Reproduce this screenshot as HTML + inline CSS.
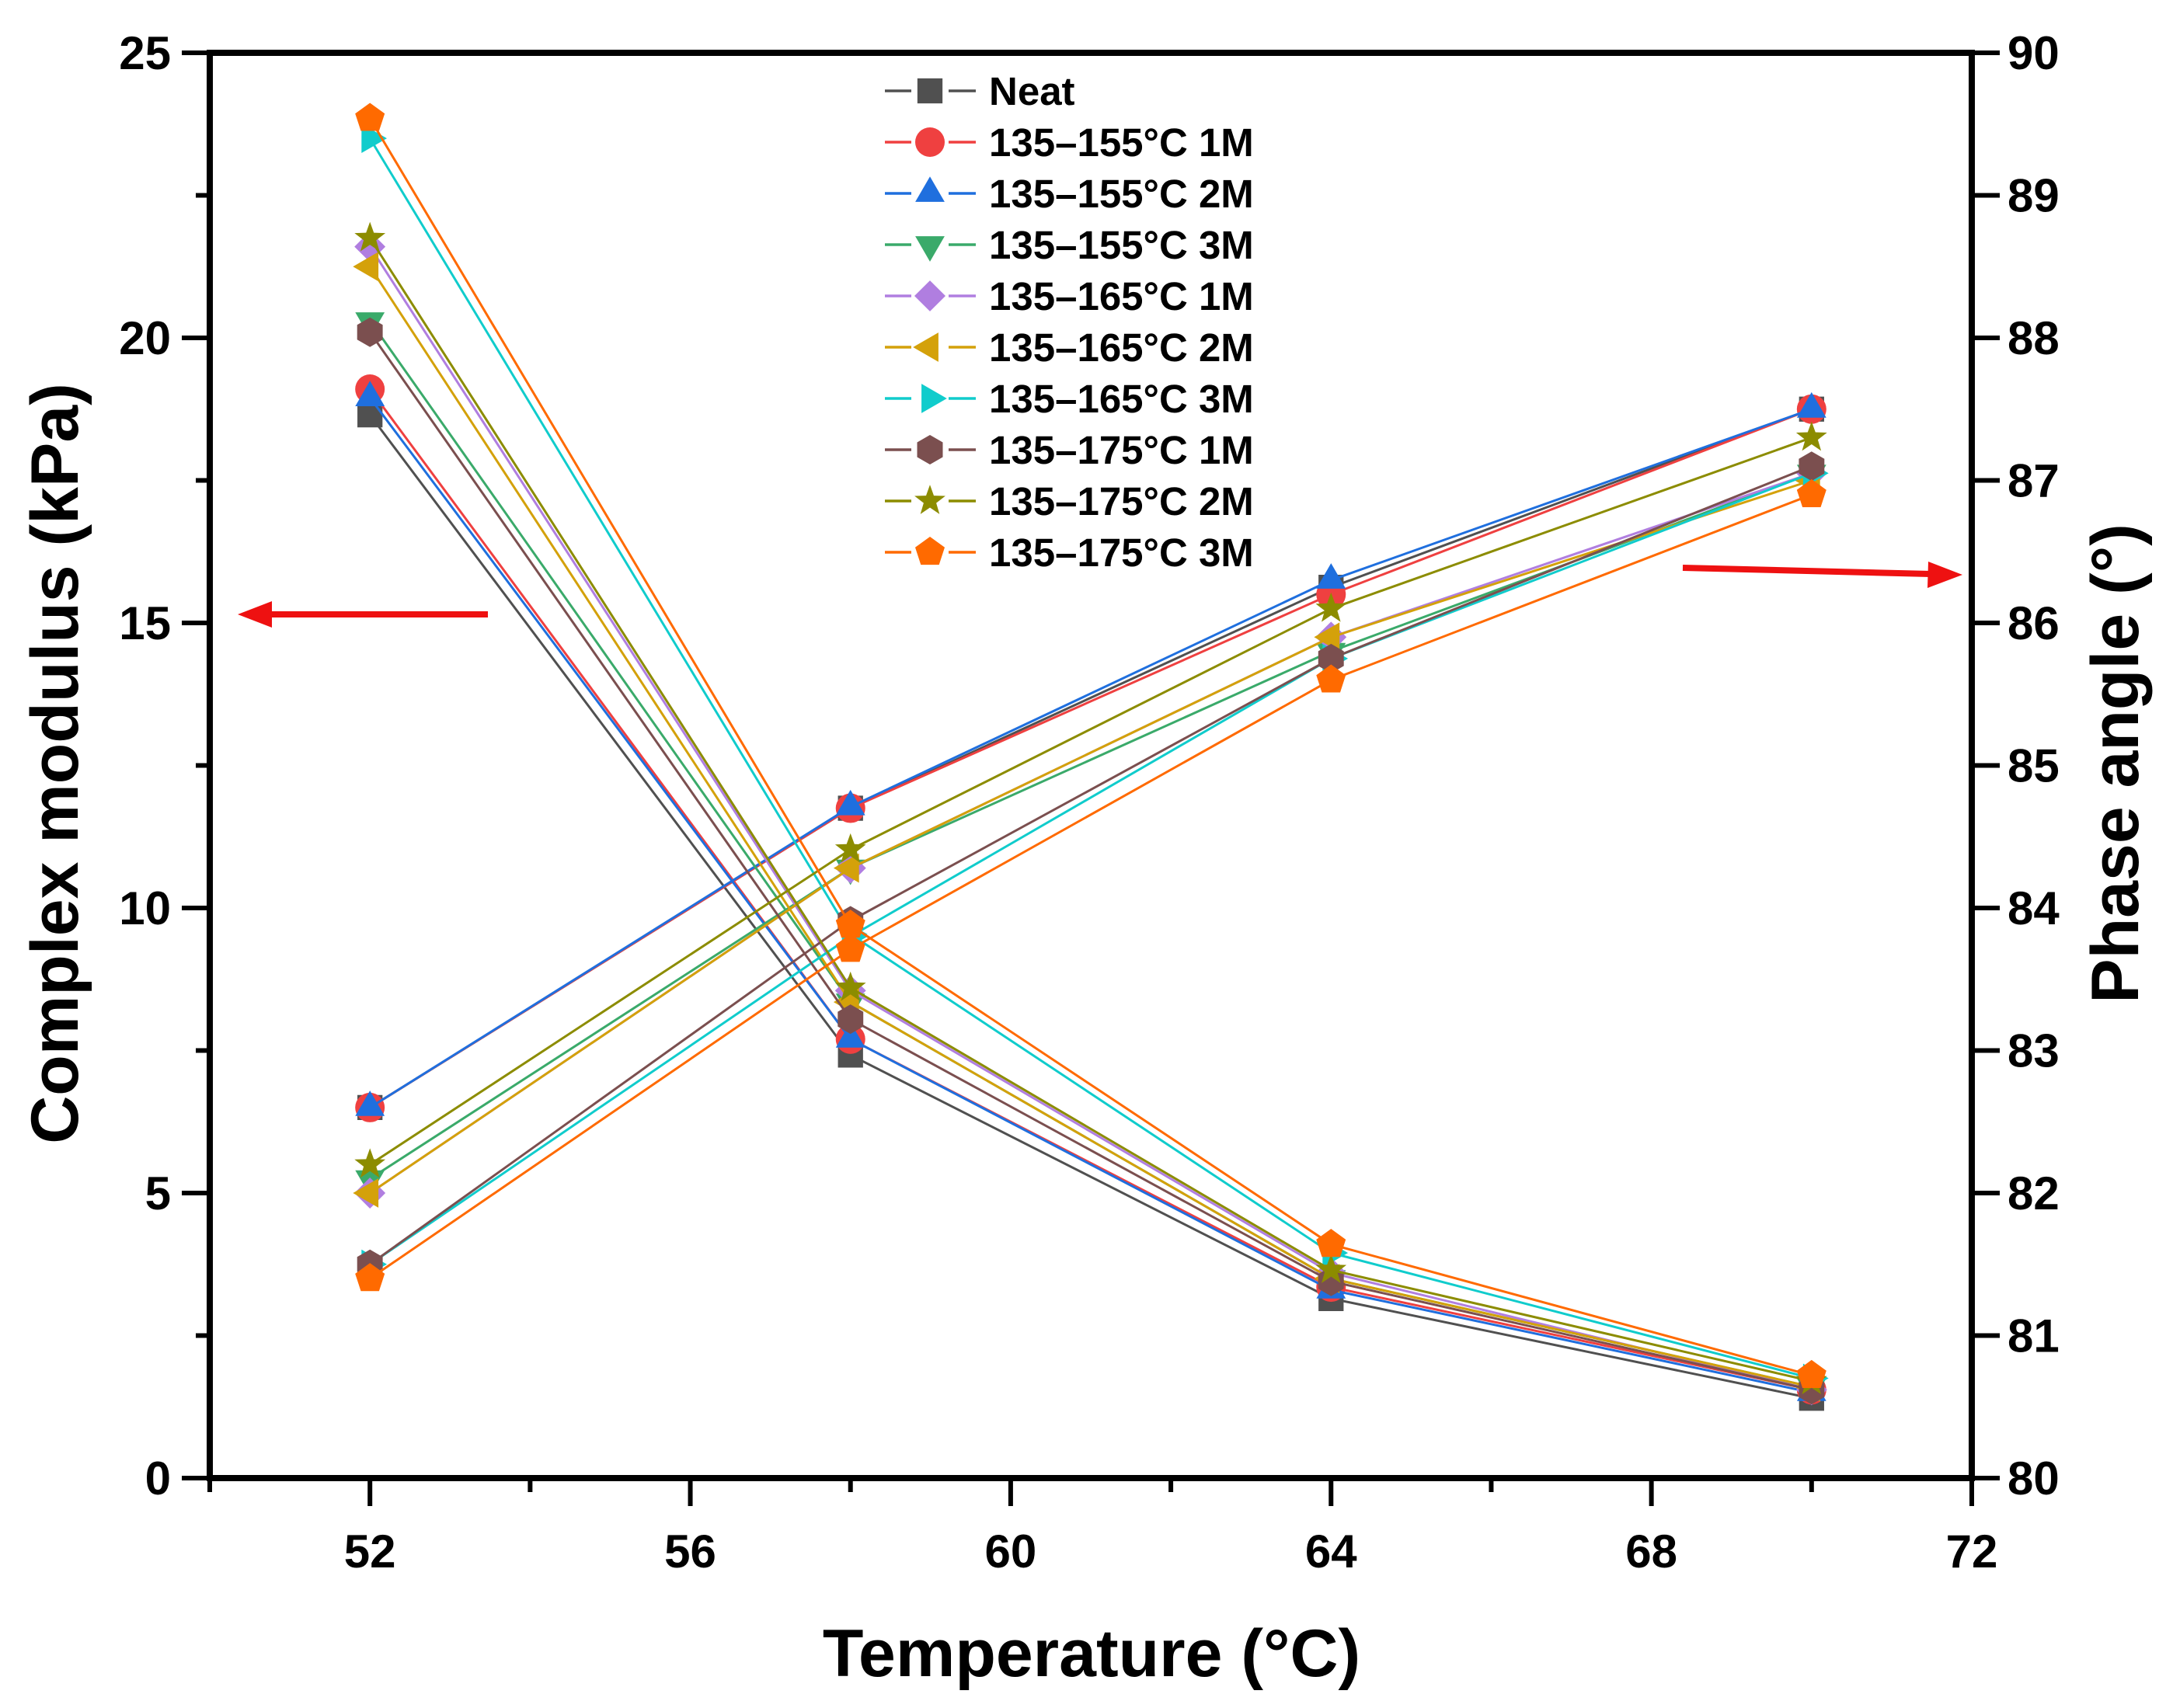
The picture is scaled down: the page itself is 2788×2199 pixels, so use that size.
<!DOCTYPE html>
<html><head><meta charset="utf-8"><style>
html,body{margin:0;padding:0;background:#fff}
svg{display:block}
text{font-family:"Liberation Sans",Arial,sans-serif;font-weight:bold}
</style></head><body>
<svg id="chart" width="2788" height="2199" viewBox="0 0 2788 2199" xmlns="http://www.w3.org/2000/svg">
<g id="plot"></g>
</svg>
<script>
const temps=[52,58,64,70];
const seriesNames=["Neat","135–155°C 1M","135–155°C 2M","135–155°C 3M","135–165°C 1M","135–165°C 2M","135–165°C 3M","135–175°C 1M","135–175°C 2M","135–175°C 3M"];
const modNeat=[18.65,7.42,3.15,1.4];
const mod155_1=[19.1,7.7,3.35,1.55];
const mod155_2=[18.95,7.7,3.3,1.5];
const mod155_3=[20.3,8.35,3.5,1.6];
const mod165_1=[21.6,8.55,3.6,1.55];
const mod165_2=[21.25,8.35,3.5,1.6];
const mod165_3=[23.5,9.54,3.95,1.75];
const mod175_1=[20.1,8.05,3.45,1.55];
const mod175_2=[21.75,8.6,3.65,1.7];
const mod175_3=[23.85,9.7,4.1,1.8];
const phNeat=[82.6,84.7,86.25,87.5];
const ph155_1=[82.6,84.7,86.2,87.5];
const ph155_2=[82.6,84.71,86.3,87.5];
const ph155_3=[82.1,84.28,85.8,87.05];
const ph165_1=[82.0,84.28,85.9,87.05];
const ph165_2=[82.0,84.28,85.9,87.0];
const ph165_3=[81.5,83.8,85.75,87.05];
const ph175_1=[81.5,83.91,85.75,87.1];
const ph175_2=[82.2,84.41,86.1,87.3];
const ph175_3=[81.4,83.71,85.6,86.9];
const xTicks=[52,56,60,64,68,72];
const yLeftTicks=[0,5,10,15,20,25];
const yRightTicks=[80,81,82,83,84,85,86,87,88,89,90];

const mods=[modNeat,mod155_1,mod155_2,mod155_3,mod165_1,mod165_2,mod165_3,mod175_1,mod175_2,mod175_3];
const phs=[phNeat,ph155_1,ph155_2,ph155_3,ph165_1,ph165_2,ph165_3,ph175_1,ph175_2,ph175_3];
const colors=["#505050","#ef4040","#1f6fde","#3aaa6a","#b07ee0","#d4a10a","#10cccc","#7b4f4f","#8c8c00","#ff6a00"];
const shapes=["square","circle","up","down","diamond","left","right","hex","star","pent"];

const L=270,R=2538,T=68,B=1903;
const X=v=>L+(v-50)/22*(R-L);
const YL=v=>B-v/25*(B-T);
const YR=v=>B-(v-80)/10*(B-T);
const NS="http://www.w3.org/2000/svg";
const svg=document.getElementById('chart');
const g=document.getElementById('plot');
function mk(tag,attrs,parent){const e=document.createElementNS(NS,tag);for(const k in attrs)e.setAttribute(k,attrs[k]);(parent||svg).appendChild(e);return e;}

function shapePath(s,cx,cy,r){
  const poly=(n,rot,rr)=>{let p=[];for(let i=0;i<n;i++){const a=rot+i*2*Math.PI/n;p.push((cx+rr*Math.cos(a)).toFixed(1)+","+(cy+rr*Math.sin(a)).toFixed(1));}return "M"+p.join("L")+"Z";};
  switch(s){
    case "square":return `M${cx-r*0.85},${cy-r*0.85}h${r*1.7}v${r*1.7}h${-r*1.7}Z`;
    case "circle":return `M${cx-r},${cy}a${r},${r} 0 1,0 ${2*r},0a${r},${r} 0 1,0 ${-2*r},0Z`;
    case "up":return poly(3,-Math.PI/2,r*1.15);
    case "down":return poly(3,Math.PI/2,r*1.15);
    case "diamond":return poly(4,-Math.PI/2,r*1.05);
    case "left":return poly(3,Math.PI,r*1.15);
    case "right":return poly(3,0,r*1.15);
    case "hex":return poly(6,-Math.PI/2,r);
    case "pent":return poly(5,-Math.PI/2,r*1.05);
    case "star":{let p=[];for(let i=0;i<10;i++){const a=-Math.PI/2+i*Math.PI/5;const rr=i%2?r*0.45:r*1.1;p.push((cx+rr*Math.cos(a)).toFixed(1)+","+(cy+rr*Math.sin(a)).toFixed(1));}return "M"+p.join("L")+"Z";}
  }
}

for(let s=0;s<seriesNames.length;s++){
  const sg=mk('g',{},g);
  
  
  const m=mk('polyline',{points:temps.map((t,i)=>X(t)+","+YL(mods[s][i])).join(" "),fill:"none",stroke:colors[s],"stroke-width":3},sg);
  
  
  const p=mk('polyline',{points:temps.map((t,i)=>X(t)+","+YR(phs[s][i])).join(" "),fill:"none",stroke:colors[s],"stroke-width":3},sg);
  
  
  temps.forEach((t,i)=>{
    const a=mk('path',{d:shapePath(shapes[s],X(t),YL(mods[s][i]),19),fill:colors[s]},sg);
    
    
    const b=mk('path',{d:shapePath(shapes[s],X(t),YR(phs[s][i]),19),fill:colors[s]},sg);
    
    
  });
}

const ax=mk('g',{stroke:"#000","stroke-width":8,fill:"none"});


mk('path',{d:`M${L},${T}H${R}V${B}H${L}Z`},ax);
xTicks.forEach(v=>{
  mk('line',{x1:X(v),y1:B,x2:X(v),y2:B+36,"stroke-width":6},ax);
  const t=mk('text',{x:X(v),y:B+115,"text-anchor":"middle","font-size":60,fill:"#000",stroke:"none"});
  t.textContent=v;
  
  
});
for(let v=50;v<=70;v+=4) mk('line',{x1:X(v),y1:B,x2:X(v),y2:B+18,"stroke-width":6},ax);
yLeftTicks.forEach(v=>{
  mk('line',{x1:L,y1:YL(v),x2:L-36,y2:YL(v),"stroke-width":6},ax);
  const t=mk('text',{x:L-50,y:YL(v)+21,"text-anchor":"end","font-size":60,fill:"#000",stroke:"none"});
  t.textContent=v;
  
  
});
for(let v=2.5;v<25;v+=5) mk('line',{x1:L,y1:YL(v),x2:L-18,y2:YL(v),"stroke-width":6},ax);
yRightTicks.forEach(v=>{
  mk('line',{x1:R,y1:YR(v),x2:R+36,y2:YR(v),"stroke-width":6},ax);
  const t=mk('text',{x:R+46,y:YR(v)+21,"text-anchor":"start","font-size":60,fill:"#000",stroke:"none"});
  t.textContent=v;
  
  
});

let tt=mk('text',{x:1405,y:2158,"text-anchor":"middle","font-size":86,fill:"#000"});
tt.textContent="Temperature (°C)";


tt=mk('text',{x:0,y:0,"text-anchor":"middle","font-size":86,fill:"#000",transform:"translate(100,983) rotate(-90)"});
tt.textContent="Complex modulus (kPa)";


tt=mk('text',{x:0,y:0,"text-anchor":"middle","font-size":86,fill:"#000",transform:"translate(2752,983) rotate(-90)"});
tt.textContent="Phase angle (°)";



const arr=mk('g',{fill:"#ee1111",stroke:"#ee1111"});


mk('line',{x1:628,y1:791,x2:345,y2:791,"stroke-width":8},arr);
mk('path',{d:"M306,791L350,774L350,808Z",stroke:"none"},arr);
mk('line',{x1:2166,y1:731,x2:2485,y2:739,"stroke-width":8},arr);
mk('path',{d:"M2526,740L2482,723L2481,757Z",stroke:"none"},arr);

const lg=mk('g',{});


seriesNames.forEach((n,i)=>{
  const y=117+i*66;
  const e=mk('g',{},lg);
  
  
  mk('line',{x1:1139,y1:y,x2:1173,y2:y,stroke:colors[i],"stroke-width":3.5},e);
  mk('line',{x1:1221,y1:y,x2:1256,y2:y,stroke:colors[i],"stroke-width":3.5},e);
  mk('path',{d:shapePath(shapes[i],1197,y,19),fill:colors[i]},e);
  const t=mk('text',{x:1273,y:y+18,"font-size":51,fill:"#000"},e);
  t.textContent=n;
});
</script>
</body></html>
